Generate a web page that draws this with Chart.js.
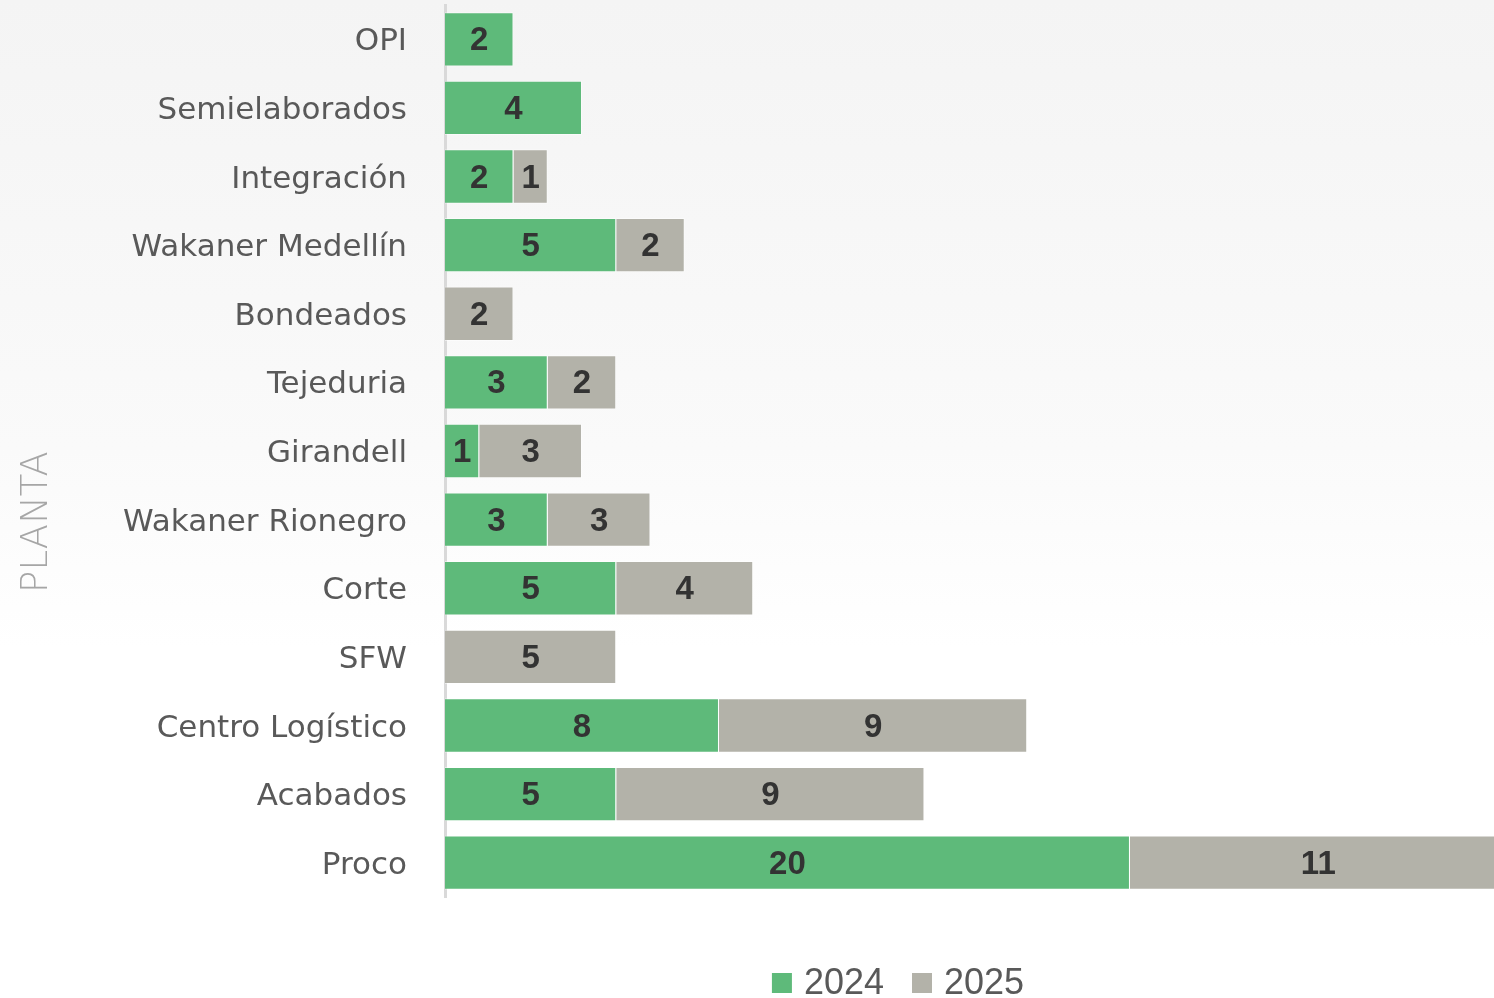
<!DOCTYPE html>
<html>
<head>
<meta charset="utf-8">
<script src="https://cdn.jsdelivr.net/npm/chart.js@4.4.1/dist/chart.umd.min.js"></script>
<style>
  html, body { margin: 0; padding: 0; }
  body { width: 1494px; height: 998px; background: linear-gradient(to bottom, #f4f4f4 0%, #fafafa 45%, #ffffff 65%, #ffffff 100%); }
  #wrap { position: relative; width: 1494px; height: 998px; }
</style>
</head>
<body>
<div id="wrap"><canvas id="plantChart" width="1494" height="998"></canvas></div>
<script>
// plantas, de arriba hacia abajo
const plantas = ['OPI', 'Semielaborados', 'Integración', 'Wakaner Medellín', 'Bondeados', 'Tejeduria',
  'Girandell', 'Wakaner Rionegro', 'Corte', 'SFW', 'Centro Logístico', 'Acabados', 'Proco'];
const valores2024 = [2, 4, 2, 5, null, 3, 1, 3, 5, null, 8, 5, 20];
const valores2025 = [null, null, 1, 2, 2, 2, 3, 3, 4, 5, 9, 9, 11];
const seriesNames = ['2024', '2025'];

const colorGreen = '#5EBA7A';
const colorGray = '#B3B2A9';
const textColor = '#595959';

// etiquetas centradas dentro de cada segmento
const barLabels = {
    id: 'barLabels',
    afterDatasetsDraw(chart) {
        const ctx = chart.ctx;
        ctx.save();
        ctx.font = 'bold 33px "Liberation Sans", Arial, sans-serif';
        ctx.fillStyle = '#333333';
        ctx.textAlign = 'center';
        ctx.textBaseline = 'middle';
        chart.data.datasets.forEach((ds, i) => {
            const meta = chart.getDatasetMeta(i);
            meta.data.forEach((bar, j) => {
                const v = ds.data[j];
                if (v === null || v === undefined) return;
                ctx.fillText(String(v), (bar.x + bar.base) / 2, bar.y + 2);
            });
        });
        ctx.restore();
    }
};

// titulo del eje y leyenda dibujados a mano
const extras = {
    id: 'extras',
    afterDraw(chart) {
        const ctx = chart.ctx;
        ctx.save();
        ctx.translate(37, 522);
        ctx.rotate(-Math.PI / 2);
        ctx.font = '200 37px "DejaVu Sans", sans-serif';
        ctx.fillStyle = '#A6A6A6';
        ctx.textAlign = 'center';
        ctx.textBaseline = 'middle';
        ctx.fillText('PLANTA', 0, 0);
        ctx.restore();

        ctx.save();
        ctx.font = '36px "Liberation Sans", Arial, sans-serif';
        ctx.textBaseline = 'middle';
        const colors = [colorGreen, colorGray];
        const box = 20, gap = 12, spacing = 28;
        let total = 0;
        const widths = seriesNames.map(n => ctx.measureText(n).width);
        widths.forEach(w => total += box + gap + w);
        total += spacing * (seriesNames.length - 1);
        let x = 898 - total / 2;
        const y = 983;
        seriesNames.forEach((n, i) => {
            ctx.fillStyle = colors[i];
            ctx.fillRect(x, y - box / 2, box, box);
            ctx.fillStyle = textColor;
            ctx.fillText(n, x + box + gap, y + 1);
            x += box + gap + widths[i] + spacing;
        });
        ctx.restore();
    }
};

new Chart(document.getElementById('plantChart'), {
    type: 'bar',
    data: {
        labels: plantas,
        datasets: [
            {
                label: seriesNames[0],
                data: valores2024,
                backgroundColor: colorGreen,
                borderColor: 'rgba(255,255,255,0.5)',
                borderWidth: 1,
                barPercentage: 0.88,
                categoryPercentage: 0.9
            },
            {
                label: seriesNames[1],
                data: valores2025,
                backgroundColor: colorGray,
                borderColor: 'rgba(255,255,255,0.5)',
                borderWidth: 1,
                barPercentage: 0.88,
                categoryPercentage: 0.9
            }
        ]
    },
    options: {
        indexAxis: 'y',
        responsive: false,
        animation: false,
        layout: { padding: { top: 5, bottom: 101, left: 0, right: 0 } },
        plugins: {
            legend: { display: false },
            tooltip: { enabled: false }
        },
        scales: {
            x: {
                stacked: true,
                display: false,
                min: 0,
                max: 30.63
            },
            y: {
                stacked: true,
                grid: { display: false },
                border: { display: true, color: '#D9D9D9', width: 3 },
                ticks: {
                    color: textColor,
                    padding: 30,
                    labelOffset: 3,
                    font: { family: '"DejaVu Sans", sans-serif', size: 31 }
                },
                afterFit(scale) {
                    scale.width = 445;
                    scale.paddingTop = 0;
                    scale.paddingBottom = 0;
                }
            }
        }
    },
    plugins: [barLabels, extras]
});
</script>
</body>
</html>
